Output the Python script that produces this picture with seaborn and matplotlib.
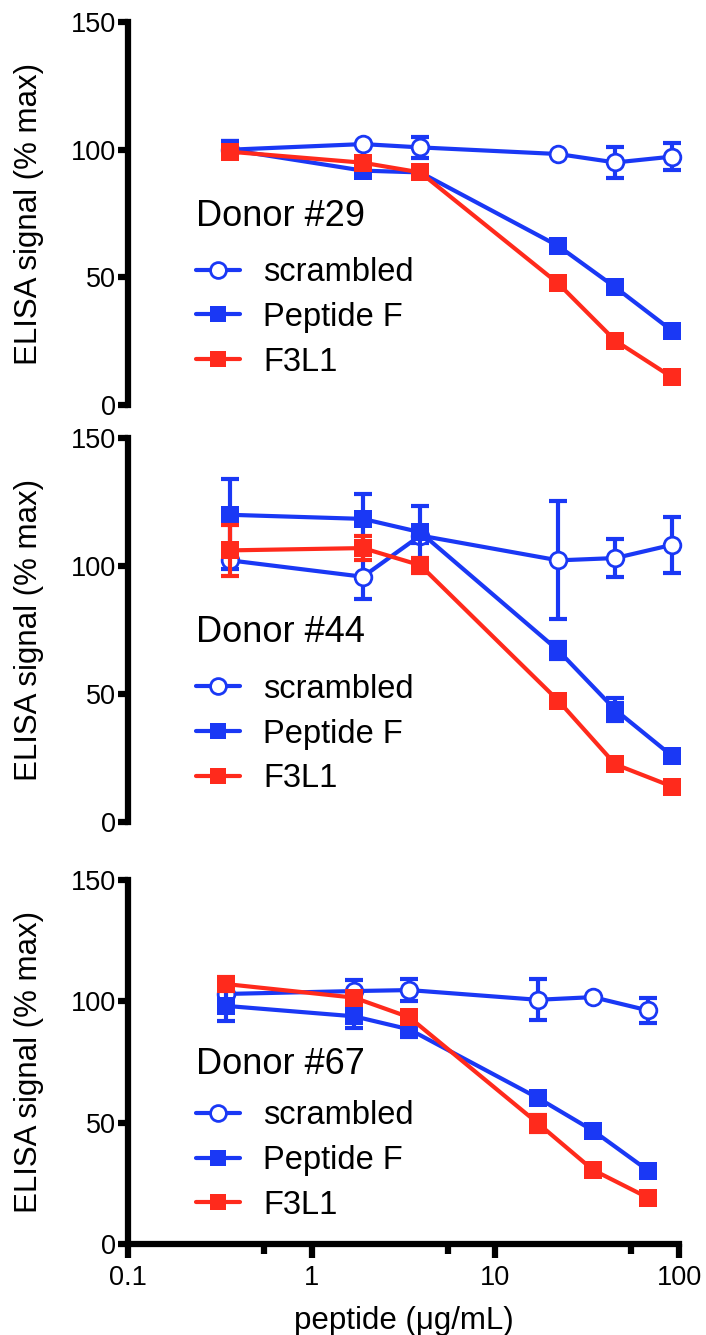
import numpy as np
import pandas as pd
import matplotlib
matplotlib.use("Agg")
import matplotlib.pyplot as plt
from matplotlib.lines import Line2D
from matplotlib.ticker import FixedLocator, NullFormatter, NullLocator
import seaborn as sns

# ---------------- data ----------------
conc_a = [0.36, 1.9, 3.9, 22, 45, 92]     # donors 29 and 44
conc_b = [0.34, 1.7, 3.4, 17, 34, 68]     # donor 67

series_names = ["scrambled", "Peptide F", "F3L1"]

d29_scr = [100, 102.2, 100.9, 98.3, 95.0, 97.3]
d29_scr_err = [3.3, 0, 4.0, 0, 6.0, 5.3]
d29_pep = [100, 91.8, 91.1, 62.3, 46.1, 29.0]
d29_pep_err = [3.3, 0, 0, 0, 0, 0]
d29_f3 = [99.2, 94.9, 91.1, 47.6, 25.2, 10.8]
d29_f3_err = [0, 0, 0, 0, 0, 0]

d44_scr = [102.2, 95.8, 111.9, 102.2, 103.1, 108.3]
d44_scr_err = [3.5, 8.8, 3.0, 23.0, 7.4, 10.9]
d44_pep = [120.0, 118.4, 113.2, 67.0, 43.8, 25.7]
d44_pep_err = [13.8, 9.7, 10.3, 3.5, 4.5, 0]
d44_f3 = [106.1, 107.0, 100.3, 47.4, 22.5, 13.8]
d44_f3_err = [10.0, 4.8, 3.0, 0, 0, 0]

d67_scr = [103.0, 104.2, 104.6, 100.6, 101.7, 96.2]
d67_scr_err = [3.0, 4.7, 4.7, 8.5, 0, 5.0]
d67_pep = [98.1, 93.8, 88.4, 60.2, 46.7, 30.2]
d67_pep_err = [6.4, 4.7, 3.0, 0, 0, 0]
d67_f3 = [107.1, 101.5, 93.4, 49.8, 30.5, 19.0]
d67_f3_err = [3.0, 0, 0, 3.5, 0, 0]

donor_labels = ["Donor #29", "Donor #44", "Donor #67"]
y_ticks = [0, 50, 100, 150]
x_ticks = [0.1, 1, 10, 100]
x_ticklabels = ["0.1", "1", "10", "100"]
x_minor = [0.55, 5.5, 55]

# ---------------- style ----------------
sns.set_style("ticks")
plt.rcParams["font.family"] = ["Liberation Sans", "DejaVu Sans"]
plt.rcParams["text.color"] = "black"
plt.rcParams["axes.labelcolor"] = "black"
plt.rcParams["xtick.color"] = "black"
plt.rcParams["ytick.color"] = "black"
plt.rcParams["xtick.labelcolor"] = "black"
plt.rcParams["ytick.labelcolor"] = "black"

BLUE = "#1a38f5"
RED = "#ff2a1c"
LW = 3.0
SPINE_W = 4.5

fig = plt.figure(figsize=(7.06, 13.35), dpi=100)
left, width = 0.1813, 0.7805
positions = [
    [left, 0.6966, width, 0.2869],
    [left, 0.3843, width, 0.2876],
    [left, 0.0682, width, 0.2727],
]

panels = [
    (conc_a, d29_scr, d29_scr_err, d29_pep, d29_pep_err, d29_f3, d29_f3_err),
    (conc_a, d44_scr, d44_scr_err, d44_pep, d44_pep_err, d44_f3, d44_f3_err),
    (conc_b, d67_scr, d67_scr_err, d67_pep, d67_pep_err, d67_f3, d67_f3_err),
]

styles = [
    dict(color=BLUE, marker="o", mfc="white", mec=BLUE, ms=12, mew=2.0),
    dict(color=BLUE, marker="s", mfc=BLUE, mec=BLUE, ms=12.5, mew=0),
    dict(color=RED, marker="s", mfc=RED, mec=RED, ms=12.5, mew=0),
]

for i, (pos, pdata) in enumerate(zip(positions, panels)):
    ax = fig.add_axes(pos)
    x = pdata[0]
    series = [(pdata[1], pdata[2]), (pdata[3], pdata[4]), (pdata[5], pdata[6])]
    for k, ((vals, errs), st, name) in enumerate(zip(series, styles, series_names)):
        z = 3 + 2 * k
        df = pd.DataFrame({"conc": x, "signal": vals})
        xe = [xx for xx, e in zip(x, errs) if e > 0]
        ye = [yy for yy, e in zip(vals, errs) if e > 0]
        ee = [e for e in errs if e > 0]
        if ee:
            ax.errorbar(xe, ye, yerr=ee, fmt="none", ecolor=st["color"],
                        elinewidth=LW, capsize=6.5, capthick=LW, zorder=z, clip_on=False)
        sns.lineplot(data=df, x="conc", y="signal", ax=ax, color=st["color"],
                     linewidth=LW, marker=st["marker"], markersize=st["ms"],
                     markerfacecolor=st["mfc"], markeredgecolor=st["mec"],
                     markeredgewidth=st["mew"], errorbar=None, zorder=z + 1,
                     clip_on=False, legend=False)

    ax.set_xscale("log")
    ax.set_xlim(0.1, 100)
    ax.set_ylim(0, 150)
    ax.set_yticks(y_ticks)
    ax.set_yticklabels([str(t) for t in y_ticks])
    ax.tick_params(axis="y", labelsize=19.5, length=7.5, width=SPINE_W, pad=1,
                   color="black", labelcolor="black")
    ax.spines["left"].set_linewidth(SPINE_W)
    ax.spines["bottom"].set_linewidth(SPINE_W)
    ax.spines["left"].set_color("black")
    ax.spines["bottom"].set_color("black")
    sns.despine(ax=ax, top=True, right=True, bottom=(i < 2))
    ax.set_ylabel("ELISA signal (% max)", fontsize=22.5, color="black")
    ax.yaxis.set_label_coords(-0.152, 0.5)

    if i < 2:
        ax.xaxis.set_major_locator(NullLocator())
        ax.xaxis.set_minor_locator(NullLocator())
        ax.set_xlabel("")
    else:
        ax.xaxis.set_major_locator(FixedLocator(x_ticks))
        ax.set_xticklabels(x_ticklabels)
        ax.xaxis.set_minor_locator(FixedLocator(x_minor))
        ax.xaxis.set_minor_formatter(NullFormatter())
        ax.tick_params(axis="x", which="major", labelsize=19.5, length=10, width=SPINE_W,
                       pad=5, color="black", labelcolor="black")
        ax.tick_params(axis="x", which="minor", length=7, width=SPINE_W, color="black")
        ax.set_xlabel("peptide (\u03bcg/mL)", fontsize=22.5, labelpad=11, color="black")

    # donor title
    ax.text(0.123, 0.493, donor_labels[i], transform=ax.transAxes, fontsize=26,
            ha="left", va="center", color="black")
    handles = [Line2D([0], [0], color=st["color"], lw=LW, marker=st["marker"],
                      markersize=st["ms"] * 0.95, markerfacecolor=st["mfc"],
                      markeredgecolor=st["mec"], markeredgewidth=st["mew"])
               for st in styles]
    leg = ax.legend(handles, series_names, loc="center left",
                    bbox_to_anchor=(0.123, 0.229), frameon=False, fontsize=23.5,
                    handlelength=1.35, handletextpad=0.72,
                    labelspacing=0.42, borderpad=0, borderaxespad=0)
    for t in leg.get_texts():
        t.set_color("black")

fig.savefig("out.png", dpi=100)
